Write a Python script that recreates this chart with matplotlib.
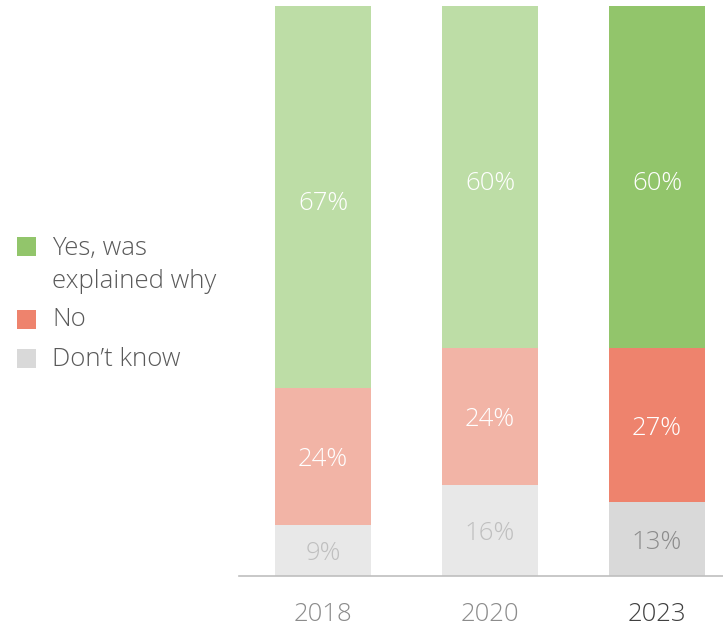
import matplotlib
matplotlib.use("Agg")
import matplotlib.pyplot as plt
from matplotlib.patches import Rectangle

# Survey data: share of respondents (%) per year
years = ["2018", "2020", "2023"]
yes_explained = [67, 60, 60]
no_vals = [24, 24, 27]
dont_know = [9, 16, 13]

series_names = ["Yes, was\nexplained why", "No", "Don\u2019t know"]

# Earlier years are drawn in muted tones, the latest year in full colour
yes_colors = ["#BDDDA6", "#BDDDA6", "#92C56B"]
no_colors = ["#F2B4A6", "#F2B4A6", "#EE836D"]
dk_colors = ["#E8E8E8", "#E8E8E8", "#D9D9D9"]
dk_text = ["#BFBFBF", "#BFBFBF", "#8C8C8C"]
year_text = ["#8C8C8C", "#8C8C8C", "#404040"]

plt.rcParams["font.family"] = ["Open Sans", "DejaVu Sans"]
FW = 300

fig = plt.figure(figsize=(7.23, 6.30), dpi=100)
ax = fig.add_axes([239 / 723, 54 / 630, 1 - 239 / 723, 570 / 630])

x = list(range(len(years)))
width = 0.575
fs = 18.5
dy = 0.6  # small downward nudge so digits sit optically centred

ax.bar(x, dont_know, width=width, color=dk_colors, edgecolor="none")
ax.bar(x, no_vals, width=width, bottom=dont_know, color=no_colors, edgecolor="none")
bottoms_yes = [d + n for d, n in zip(dont_know, no_vals)]
ax.bar(x, yes_explained, width=width, bottom=bottoms_yes, color=yes_colors, edgecolor="none")

for i in x:
    ax.text(i, dont_know[i] / 2 - dy, f"{dont_know[i]}%", ha="center", va="center",
            fontsize=fs, color=dk_text[i], fontweight=FW)
    ax.text(i, dont_know[i] + no_vals[i] / 2 - dy, f"{no_vals[i]}%", ha="center", va="center",
            fontsize=fs, color="white", fontweight=FW)
    ax.text(i, bottoms_yes[i] + yes_explained[i] / 2 - 0.5 - dy, f"{yes_explained[i]}%",
            ha="center", va="center", fontsize=fs, color="white", fontweight=FW)

ax.set_xlim(-0.503, 2.395)
ax.set_ylim(0, 100)
for s in ["top", "right", "left"]:
    ax.spines[s].set_visible(False)
ax.spines["bottom"].set_color("#BFBFBF")
ax.spines["bottom"].set_linewidth(1.2)
ax.set_yticks([])
ax.set_xticks(x)
ax.set_xticklabels(years, fontsize=fs, fontweight=FW)
ax.tick_params(axis="x", length=0, pad=19)
for lbl, c in zip(ax.get_xticklabels(), year_text):
    lbl.set_color(c)

# Legend drawn in figure pixel coordinates
W, H = 723, 630
legend_colors = ["#92C56B", "#EE836D", "#D9D9D9"]
legend_sq_y = [246, 319, 358]
legend_text_y = [265, 320, 359]
sq = 19
for name, c, ys, yt in zip(series_names, legend_colors, legend_sq_y, legend_text_y):
    fig.add_artist(Rectangle((17 / W, (H - ys - sq / 2) / H), sq / W, sq / H,
                             transform=fig.transFigure, color=c, lw=0))
    fig.text(52 / W, (H - yt) / H, name, ha="left", va="center",
             fontsize=fs, color="#595959", linespacing=1.38, fontweight=FW)

fig.savefig("out.png", dpi=100)
